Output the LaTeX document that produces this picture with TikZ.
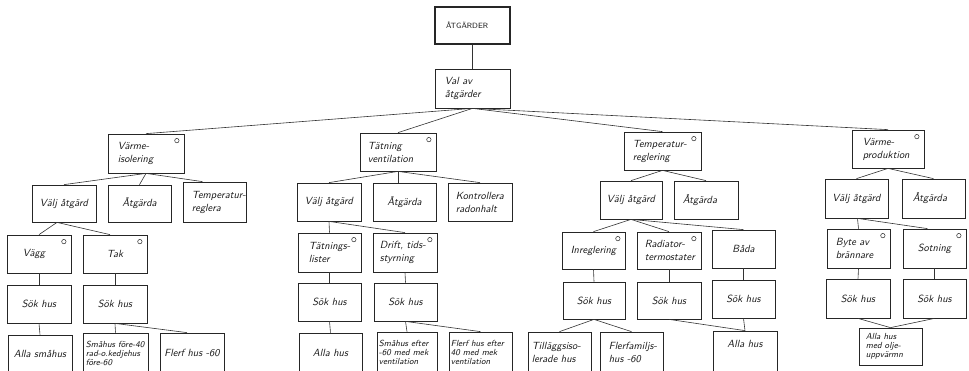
\documentclass[tikz,border=0pt]{standalone}
\usepackage{fontspec}
% \flowbox[options]{name}{x1}{y1}{x2}{y2}{text}: framed box given by its corners, text centred
\newcommand\flowbox[7][]{%
  \pgfmathsetmacro\fbw{#5-#3}%
  \pgfmathsetmacro\fbh{#6-#4}%
  \node[box,minimum width=\fbw pt,minimum height=\fbh pt,#1] (#2) at ({(#3+#5)/2},{(#4+#6)/2}) {#7};}
% \flowboxl[options]{name}{x1}{y1}{x2}{y2}{indent}{text}: same box, text set flush left
\newcommand\flowboxl[8][]{%
  \pgfmathsetmacro\fbw{#5-#3}%
  \pgfmathsetmacro\fbh{#6-#4}%
  \node[box,minimum width=\fbw pt,minimum height=\fbh pt,#1] (#2) at ({(#3+#5)/2},{(#4+#6)/2}) {};
  \node[boxtext,anchor=west,#1] (#2-t) at ([xshift=#7pt]#2.west) {#8};}
\begin{document}
\begin{tikzpicture}[x=1pt,y=-1pt,
  boxfont/.style={font=\fontsize{10.4}{13}\selectfont\sffamily\itshape},
  box/.style={draw=black!85, line width=0.75pt, inner sep=0pt, align=center, boxfont, text=black!90},
  boxtext/.style={inner sep=0pt, align=left, boxfont, text=black!90},
  small/.style={font=\fontsize{8.8}{9}\selectfont\sffamily\itshape},
  link/.style={draw=black!80, line width=0.6pt},
  choice/.style={draw=black!85, line width=0.5pt}
]
\useasboundingbox[fill=white] (0,0) rectangle (969,370);

% top of the tree
\flowboxl[line width=1.3pt,font=\fontsize{7.6}{9}\selectfont\sffamily]{A0}{435}{7}{510}{44}{11}{ÅTGÄRDER}
\flowboxl{A1}{435}{69}{510}{108}{10}{Val av\\åtgärder}

% main groups
\flowboxl{B1}{108}{134}{184}{173}{10}{Värme-\\isolering}
\flowboxl{B2}{360}{133}{436}{171}{8}{Tätning\\ventilation}
\flowboxl{B3}{624}{132}{701}{170}{9}{Temperatur-\\reglering}
\flowboxl{B4}{852}{130}{924}{168}{11}{Värme-\\produktion}

% second level
\flowbox{C1a}{32}{185}{96}{222}{Välj åtgärd}
\flowbox{C1b}{108}{185}{171}{222}{Åtgärda}
\flowboxl{C1c}{183}{182}{246}{222}{9}{Temperatur-\\reglera}
\flowbox{C2a}{297}{183}{361}{221}{Välj åtgärd}
\flowbox{C2b}{373}{183}{436}{221}{Åtgärda}
\flowboxl{C2c}{448}{183}{512}{221}{8}{Kontrollera\\radonhalt}
\flowbox{C3a}{600}{181}{662}{219}{Välj åtgärd}
\flowboxl{C3b}{674}{181}{738}{219}{9}{Åtgärda}
\flowbox{C4a}{825}{179}{888}{218}{Välj åtgärd}
\flowboxl{C4b}{902}{179}{965}{218}{11}{Åtgärda}

% measures to choose from
\flowboxl{D1a}{7}{235}{71}{273}{16}{Vägg}
\flowbox{D1b}{83}{235}{147}{273}{Tak}
\flowboxl{D2a}{298}{233}{361}{272}{11}{Tätnings-\\lister}
\flowboxl{D2b}{373}{233}{437}{272}{7}{Drift, tids-\\styrning}
\flowbox{D3a}{562}{232}{625}{269}{Inreglering}
\flowboxl{D3b}{637}{232}{701}{269}{8}{Radiator-\\termostater}
\flowbox{D3c}{712}{230}{775}{268}{Båda}
\flowboxl{D4a}{827}{229}{890}{268}{9}{Byte av\\brännare}
\flowbox{D4b}{903}{229}{966}{268}{Sotning}

% house searches
\flowbox{E1a}{7}{285}{71}{323}{Sök hus}
\flowbox{E1b}{83}{285}{147}{323}{Sök hus}
\flowbox{E2a}{298}{283}{361}{321}{Sök hus}
\flowbox{E2b}{374}{283}{437}{321}{Sök hus}
\flowbox{E3a}{563}{282}{625}{319}{Sök hus}
\flowbox{E3b}{637}{282}{701}{319}{Sök hus}
\flowbox{E3c}{712}{280}{775}{318}{Sök hus}
\flowbox{E4a}{826}{279}{890}{318}{Sök hus}
\flowbox{E4b}{903}{279}{966}{318}{Sök hus}

% house categories
\flowbox{F1a}{8}{335}{72}{373}{Alla småhus}
\flowboxl[small]{F1b}{83}{333}{148}{373}{3}{Småhus före-40\\rad-o.kedjehus\\före-60}
\flowbox{F1c}{160}{333}{224}{373}{Flerf hus -60}
\flowbox{F2a}{299}{333}{362}{373}{Alla hus}
\flowboxl[small]{F2b}{377}{332}{437}{373}{2}{Småhus efter\\-60 med mek\\ventilation}
\flowboxl[small]{F2c}{449}{332}{512}{373}{2}{Flerf hus efter\\40 med mek\\ventilation}
\flowboxl{F3a}{528}{332}{591}{373}{4}{Tilläggsiso-\\lerade hus}
\flowboxl{F3b}{600}{332}{663}{373}{9}{Flerfamiljs-\\hus -60}
\flowbox[text depth=16pt]{F3c}{713}{331}{777}{373}{Alla hus}
\flowboxl[small]{F4}{859}{328}{922}{365}{7}{Alla hus\\med olje-\\uppvärmn}

% connectors
\draw[link] (A0.south) -- (A1.south |- A1.north);
\foreach \t in {B1,B2,B3,B4} \draw[link] (A1.south) -- (\t.north);
\draw[link] (B1.south) -- (C1a.north);
\draw[link] (B1.south) -- (C1b.north);
\draw[link] (B1.south) -- ([xshift=-12pt]C1c.north);
\draw[link] (B2.south) -- (C2a.north);
\draw[link] (B2.south) -- (B2.south |- C2b.north);
\draw[link] (B2.south) -- (C2c.north);
\draw[link] (B3.south) -- (C3a.north);
\draw[link] (B3.south) -- (C3b.north);
\draw[link] (B4.south) -- (C4a.north);
\draw[link] (B4.south) -- (C4b.north);

\draw[link] ([xshift=-7pt]C1a.south) -- (D1a.north);
\draw[link] ([xshift=-7pt]C1a.south) -- ([xshift=-5pt]D1b.north);
\draw[link] (C2a.south) -- (D2a.north);
\draw[link] (C2a.south) -- (D2b.north);
\draw[link] (C3a.south) -- (D3a.north);
\draw[link] (C3a.south) -- (D3b.north);
\draw[link] (C3a.south) -- (D3c.north);
\draw[link] ([xshift=1pt]C4a.south) -- (D4a.north);
\draw[link] ([xshift=1pt]C4a.south) -- ([xshift=-7pt]D4b.north);

\foreach \a/\b in {D1a/E1a,D1b/E1b,D2a/E2a,D2b/E2b,D3a/E3a,D3b/E3b,D3c/E3c,D4a/E4a,D4b/E4b}
  \draw[link] (\a.south) -- (\b.north);

\draw[link] (E1a.south) -- (F1a.north);
\draw[link] (E1b.south) -- (F1b.north);
\draw[link] (E1b.south) -- ([xshift=-5pt]F1c.north);
\draw[link] (E2a.south) -- (F2a.north);
\draw[link] (E2b.south) -- (F2b.north);
\draw[link] (E2b.south) -- (F2c.north);
\draw[link] (E3a.south) -- (F3a.north);
\draw[link] (E3a.south) -- (F3b.north);
\draw[link] (E3b.south) -- (F3c.north);
\draw[link] (E3c.south) -- (F3c.north);
\draw[link] (E4a.south) -- (F4.north);
\draw[link] (E4b.south) -- (F4.north);

% small circles marking boxes with alternatives
\foreach \n in {B1,B2,B3,B4,D1a,D1b,D2a,D2b,D3a,D3b,D4a,D4b}
  \draw[choice] (\n.north east) ++(-7.5,7) circle (2.2);
\end{tikzpicture}
\end{document}
